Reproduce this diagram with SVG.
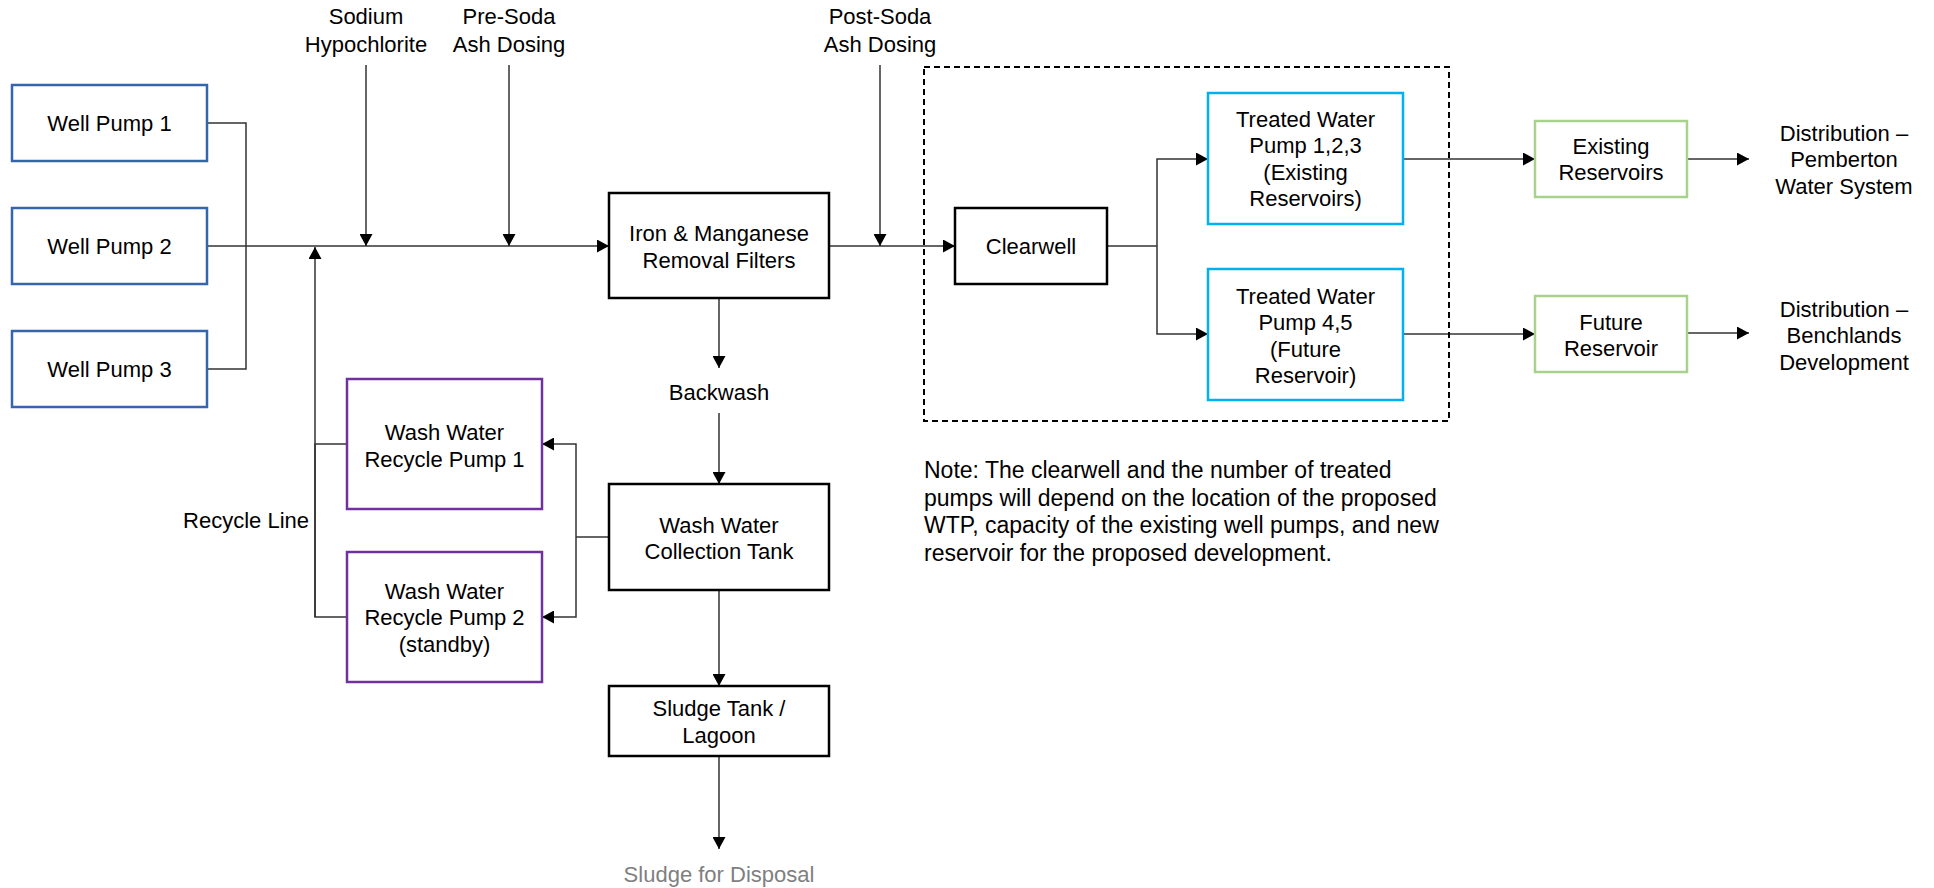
<svg xmlns="http://www.w3.org/2000/svg" width="1934" height="888" viewBox="0 0 1934 888">
<style>
text{font-family:"Liberation Sans",Arial,sans-serif;font-size:22px;fill:#000;text-anchor:middle}
.note{font-size:23px;text-anchor:start}
.blue{fill:#fff;stroke:#3565AD;stroke-width:2.5}
.purple{fill:#fff;stroke:#7030A0;stroke-width:2.5}
.cyan{fill:#fff;stroke:#00B0F0;stroke-width:2.5}
.green{fill:#fff;stroke:#A9D18E;stroke-width:2.5}
.black{fill:#fff;stroke:#000;stroke-width:2.5}
.ln{fill:none;stroke:#333;stroke-width:1.5}
.arr{marker-end:url(#ah)}
</style>
<defs>
<marker id="ah" markerUnits="userSpaceOnUse" markerWidth="13" markerHeight="13" refX="12" refY="6.5" orient="auto">
<path d="M0,0 L12,6.5 L0,13 z" fill="#000"/>
</marker>
</defs>
<rect width="1934" height="888" fill="#fff"/>
<g id="connectors">
<polyline class="ln" points="207,123 246,123 246,369 207,369"/>
<line class="ln arr" x1="207" y1="246" x2="609" y2="246"/>
<line class="ln arr" x1="366" y1="65" x2="366" y2="246"/>
<line class="ln arr" x1="509" y1="65" x2="509" y2="246"/>
<polyline class="ln" points="347,617 315,617 315,444 347,444"/>
<line class="ln arr" x1="315" y1="617" x2="315" y2="247"/>
<line class="ln arr" x1="829" y1="246" x2="955" y2="246"/>
<line class="ln arr" x1="880" y1="65" x2="880" y2="246"/>
<polyline class="ln" points="1107,246 1157,246"/>
<polyline class="ln arr" points="1157,246 1157,159 1208,159"/>
<polyline class="ln arr" points="1157,246 1157,334 1208,334"/>
<line class="ln arr" x1="1403" y1="159" x2="1535" y2="159"/>
<line class="ln arr" x1="1403" y1="334" x2="1535" y2="334"/>
<line class="ln arr" x1="1687" y1="159" x2="1749" y2="159"/>
<line class="ln arr" x1="1687" y1="333" x2="1749" y2="333"/>
<line class="ln arr" x1="719" y1="298" x2="719" y2="368"/>
<line class="ln arr" x1="719" y1="413" x2="719" y2="484"/>
<polyline class="ln" points="609,537 576,537"/>
<polyline class="ln arr" points="576,537 576,444 542,444"/>
<polyline class="ln arr" points="576,537 576,617 542,617"/>
<line class="ln arr" x1="719" y1="590" x2="719" y2="686"/>
<line class="ln arr" x1="719" y1="756" x2="719" y2="849"/>
</g>
<g id="boundary">
<rect x="924" y="67" width="525" height="354" fill="none" stroke="#000" stroke-width="2" stroke-dasharray="6 4"/>
</g>
<g id="labels">
<text x="366" y="24">Sodium</text><text x="366" y="52">Hypochlorite</text>
<text x="509" y="24">Pre-Soda</text><text x="509" y="52">Ash Dosing</text>
<text x="880" y="24">Post-Soda</text><text x="880" y="52">Ash Dosing</text>
<text x="719" y="399.5">Backwash</text>
<text x="309" y="527.5" style="text-anchor:end">Recycle Line</text>
<text x="719" y="882" style="fill:#7f7f7f">Sludge for Disposal</text>
<text x="1844" y="140.5">Distribution –</text><text x="1844" y="167">Pemberton</text><text x="1844" y="193.5">Water System</text>
<text x="1844" y="316.5">Distribution –</text><text x="1844" y="343">Benchlands</text><text x="1844" y="369.5">Development</text>
</g>
<g id="note">
<text class="note" x="924" y="478">Note: The clearwell and the number of treated</text>
<text class="note" x="924" y="505.5">pumps will depend on the location of the proposed</text>
<text class="note" x="924" y="533">WTP, capacity of the existing well pumps, and new</text>
<text class="note" x="924" y="560.5">reservoir for the proposed development.</text>
</g>
<g id="well-pump-1"><rect class="blue" x="12" y="85" width="195" height="76"/><text x="109.5" y="130.5">Well Pump 1</text></g>
<g id="well-pump-2"><rect class="blue" x="12" y="208" width="195" height="76"/><text x="109.5" y="253.5">Well Pump 2</text></g>
<g id="well-pump-3"><rect class="blue" x="12" y="331" width="195" height="76"/><text x="109.5" y="376.5">Well Pump 3</text></g>
<g id="iron-filters"><rect class="black" x="609" y="193" width="220" height="105"/><text x="719" y="240.5">Iron &amp; Manganese</text><text x="719" y="267.5">Removal Filters</text></g>
<g id="clearwell"><rect class="black" x="955" y="208" width="152" height="76"/><text x="1031" y="253.5">Clearwell</text></g>
<g id="treated-pump-123"><rect class="cyan" x="1208" y="93" width="195" height="131"/><text x="1305.5" y="126.5">Treated Water</text><text x="1305.5" y="153">Pump 1,2,3</text><text x="1305.5" y="179.5">(Existing</text><text x="1305.5" y="206">Reservoirs)</text></g>
<g id="treated-pump-45"><rect class="cyan" x="1208" y="269" width="195" height="131"/><text x="1305.5" y="303.5">Treated Water</text><text x="1305.5" y="330">Pump 4,5</text><text x="1305.5" y="356.5">(Future</text><text x="1305.5" y="383">Reservoir)</text></g>
<g id="existing-reservoirs"><rect class="green" x="1535" y="121" width="152" height="76"/><text x="1611" y="153.5">Existing</text><text x="1611" y="180">Reservoirs</text></g>
<g id="future-reservoir"><rect class="green" x="1535" y="296" width="152" height="76"/><text x="1611" y="329.5">Future</text><text x="1611" y="356">Reservoir</text></g>
<g id="wash-water-tank"><rect class="black" x="609" y="484" width="220" height="106"/><text x="719" y="532.5">Wash Water</text><text x="719" y="559">Collection Tank</text></g>
<g id="sludge-tank"><rect class="black" x="609" y="686" width="220" height="70"/><text x="719" y="715.5">Sludge Tank /</text><text x="719" y="743">Lagoon</text></g>
<g id="recycle-pump-1"><rect class="purple" x="347" y="379" width="195" height="130"/><text x="444.5" y="439.5">Wash Water</text><text x="444.5" y="466.5">Recycle Pump 1</text></g>
<g id="recycle-pump-2"><rect class="purple" x="347" y="552" width="195" height="130"/><text x="444.5" y="598.5">Wash Water</text><text x="444.5" y="625">Recycle Pump 2</text><text x="444.5" y="651.5">(standby)</text></g>
</svg>
